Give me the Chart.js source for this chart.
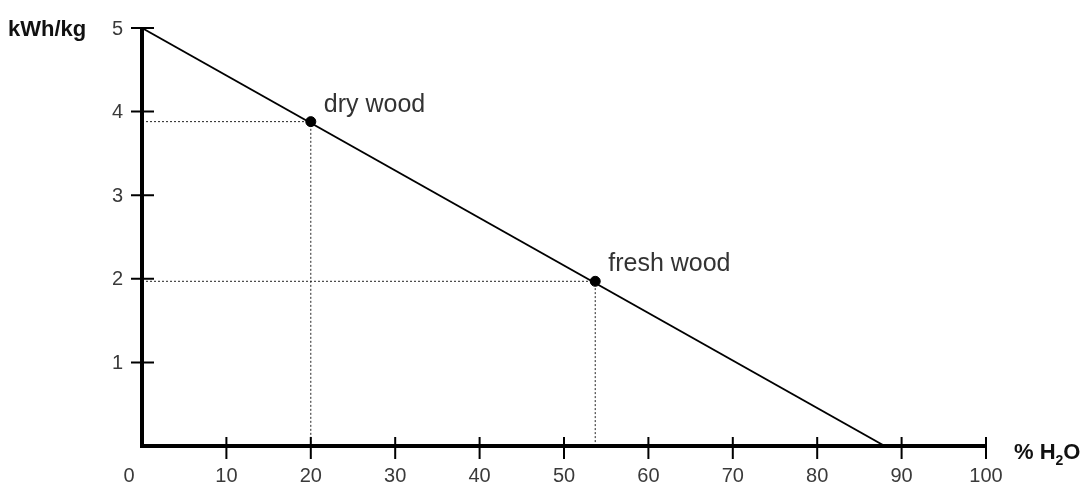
<!DOCTYPE html>
<html>
<head>
<meta charset="utf-8">
<script src="https://cdn.jsdelivr.net/npm/chart.js@4.4.1/dist/chart.umd.min.js"></script>
<style>
html,body{margin:0;padding:0;background:#fff;}
#wrap{width:1088px;height:489px;position:relative;}
</style>
</head>
<body>
<div id="wrap"><canvas id="c" width="1088" height="489"></canvas></div>
<script>
// ---- data ----
const xTicks = [0,10,20,30,40,50,60,70,80,90,100];
const yTicks = [1,2,3,4,5];
const lineX = [0, 88];
const lineY = [5, 0];
const pointNames = ["dry wood", "fresh wood"];
const pointX = [20, 53.7];
const pointY = [3.88, 1.97];
const xTitle = "% H";
const xTitleSub = "2";
const xTitleEnd = "O";
const yTitle = "kWh/kg";

const FONT = '"Liberation Sans", Arial, sans-serif';

const lineData = lineX.map((x,i)=>({x:x, y:lineY[i]}));
const ptData = pointX.map((x,i)=>({x:x, y:pointY[i]}));
const guideSets = pointX.map((x,i)=>({
  type:'line',
  data:[{x:0,y:pointY[i]},{x:x,y:pointY[i]},{x:x,y:0}],
  borderColor:'#222', borderWidth:1, borderDash:[2,2],
  pointRadius:0, fill:false, clip:false, order:3
}));

const axesPlugin = {
  id:'axesPlugin',
  afterDatasetsDraw(chart){
    const ctx = chart.ctx;
    const xs = chart.scales.x, ys = chart.scales.y;
    const x0 = xs.getPixelForValue(0), y0 = ys.getPixelForValue(0);
    const xEnd = xs.getPixelForValue(100), yEnd = ys.getPixelForValue(5);
    ctx.save();
    ctx.strokeStyle = '#000';
    ctx.lineCap = 'butt';
    // axes
    ctx.lineWidth = 4;
    ctx.beginPath();
    ctx.moveTo(x0, yEnd);
    ctx.lineTo(x0, y0+2);
    ctx.moveTo(x0-2, y0);
    ctx.lineTo(xEnd+1, y0);
    ctx.stroke();
    // ticks
    ctx.lineWidth = 2;
    ctx.beginPath();
    xTicks.forEach(v=>{
      if (v===0) return;
      const px = xs.getPixelForValue(v);
      ctx.moveTo(px, y0-9); ctx.lineTo(px, y0+13);
    });
    yTicks.forEach(v=>{
      const py = ys.getPixelForValue(v);
      ctx.moveTo(x0-11, py); ctx.lineTo(x0+12, py);
    });
    ctx.stroke();
    // tick labels
    ctx.fillStyle = '#3a3a3a';
    ctx.font = '20px ' + FONT;
    ctx.textAlign = 'center';
    ctx.textBaseline = 'middle';
    xTicks.forEach(v=>{
      let px = xs.getPixelForValue(v);
      if (v===0) px -= 13;
      ctx.fillText(String(v), px, y0+30);
    });
    ctx.textAlign = 'right';
    yTicks.forEach(v=>{
      ctx.fillText(String(v), x0-19, ys.getPixelForValue(v)+1);
    });
    // axis titles
    ctx.fillStyle = '#111';
    ctx.font = 'bold 22px ' + FONT;
    ctx.textAlign = 'left';
    ctx.textBaseline = 'alphabetic';
    ctx.fillText(yTitle, 8, yEnd+8);
    let tx = 1014, ty = y0+13;
    ctx.fillText(xTitle, tx, ty);
    tx += ctx.measureText(xTitle).width;
    ctx.font = 'bold 14px ' + FONT;
    ctx.fillText(xTitleSub, tx, ty+6);
    tx += ctx.measureText(xTitleSub).width;
    ctx.font = 'bold 22px ' + FONT;
    ctx.fillText(xTitleEnd, tx, ty);
    // point labels
    ctx.fillStyle = '#333';
    ctx.font = '25px ' + FONT;
    ctx.textBaseline = 'middle';
    pointNames.forEach((n,i)=>{
      const px = xs.getPixelForValue(pointX[i]);
      const py = ys.getPixelForValue(pointY[i]);
      ctx.fillText(n, px+13, py-17);
    });
    ctx.restore();
  }
};

new Chart(document.getElementById('c'), {
  type:'scatter',
  data:{
    datasets:[
      {type:'line', data:lineData, borderColor:'#000', borderWidth:2, pointRadius:0, fill:false, clip:false, order:2},
      ...guideSets,
      {type:'scatter', data:ptData, backgroundColor:'#000', borderColor:'#000', pointRadius:5, pointHoverRadius:5, clip:false, order:1}
    ]
  },
  options:{
    responsive:false,
    animation:false,
    devicePixelRatio:1,
    layout:{padding:{left:142, right:102, top:28, bottom:43}},
    plugins:{legend:{display:false}, tooltip:{enabled:false}},
    scales:{
      x:{type:'linear', min:0, max:100, display:false},
      y:{type:'linear', min:0, max:5, display:false}
    }
  },
  plugins:[axesPlugin]
});
</script>
</body>
</html>
